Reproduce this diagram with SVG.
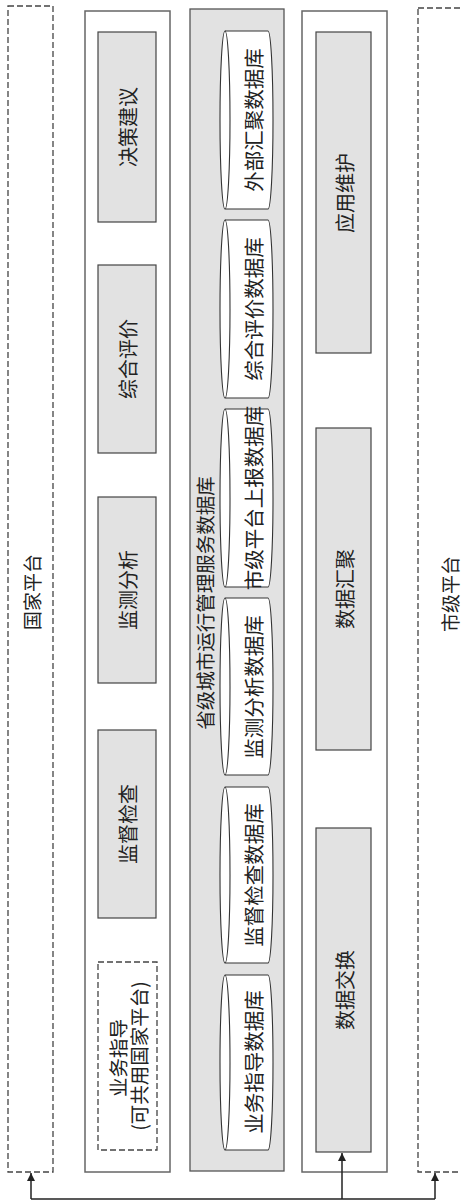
<svg xmlns="http://www.w3.org/2000/svg" width="461" height="1201" viewBox="0 0 461 1201">
<defs>
<style>
.t{font-family:"Noto Sans CJK SC","Noto Sans",sans-serif;fill:#222;text-anchor:middle;dominant-baseline:central}
.dash{fill:none;stroke:#444;stroke-width:1.3;stroke-dasharray:6 3}
.outer{fill:#fff;stroke:#666;stroke-width:1.5}
.box{fill:#e2e2e2;stroke:#444;stroke-width:1.2}
.dbwrap{fill:#e2e2e2;stroke:#555;stroke-width:1.3}
.cyl{fill:#fff;stroke:#333;stroke-width:1.1}
.conn{fill:none;stroke:#222;stroke-width:1.5}
</style>
<marker id="ah" viewBox="0 0 10 10" refX="10" refY="5" markerWidth="8" markerHeight="10" markerUnits="userSpaceOnUse" orient="auto">
<path d="M0,0 L10,5 L0,10 z" fill="#222"/>
</marker>
</defs>
<rect width="461" height="1201" fill="#fff"/>

<g id="national">
<rect class="dash" x="8" y="6" width="45" height="1166"/>
<text class="t" font-size="19" transform="translate(31,592) rotate(-90)">国家平台</text>
</g>

<g id="municipal">
<rect class="dash" x="418" y="8" width="50" height="1164"/>
<text class="t" font-size="19" transform="translate(449,594) rotate(-90)">市级平台</text>
</g>

<g id="apps">
<rect class="outer" x="85" y="11" width="85" height="1161"/>
<g id="juece"><rect class="box" x="98" y="32" width="58" height="190"/><text class="t" font-size="20" transform="translate(127,127) rotate(-90)">决策建议</text></g>
<g id="zonghe"><rect class="box" x="98" y="265" width="58" height="188"/><text class="t" font-size="20" transform="translate(127,359) rotate(-90)">综合评价</text></g>
<g id="jiance"><rect class="box" x="98" y="497" width="58" height="186"/><text class="t" font-size="20" transform="translate(127,590) rotate(-90)">监测分析</text></g>
<g id="jiandu"><rect class="box" x="98" y="730" width="58" height="188"/><text class="t" font-size="20" transform="translate(127,824) rotate(-90)">监督检查</text></g>
<g id="yewu"><rect class="dash" x="98" y="962" width="59" height="188" fill="#fff"/>
<text class="t" font-size="19.5" transform="translate(117,1058) rotate(-90)">业务指导</text>
<text class="t" font-size="19.5" transform="translate(138,1056) rotate(-90)">(可共用国家平台)</text></g>
</g>

<g id="db">
<rect class="dbwrap" x="190" y="9" width="94" height="1162"/>
<text class="t" font-size="19.5" transform="translate(204,603) rotate(-90)">省级城市运行管理服务数据库</text>
<g id="db1"><path class="cyl" d="M225,31 L268,31 A5,89 0 0 1 268,209 L225,209 A5,89 0 0 1 225,31 A5,89 0 0 1 225,209"/><text class="t" font-size="20.5" transform="translate(253,120) rotate(-90)">外部汇聚数据库</text></g>
<g id="db2"><path class="cyl" d="M225,220 L268,220 A5,89 0 0 1 268,398 L225,398 A5,89 0 0 1 225,220 A5,89 0 0 1 225,398"/><text class="t" font-size="20.5" transform="translate(253,309) rotate(-90)">综合评价数据库</text></g>
<g id="db3"><path class="cyl" d="M225,409 L268,409 A5,89 0 0 1 268,587 L225,587 A5,89 0 0 1 225,409 A5,89 0 0 1 225,587"/><text class="t" font-size="20.5" transform="translate(253,498) rotate(-90)">市级平台上报数据库</text></g>
<g id="db4"><path class="cyl" d="M225,598 L268,598 A5,88.5 0 0 1 268,775 L225,775 A5,88.5 0 0 1 225,598 A5,88.5 0 0 1 225,775"/><text class="t" font-size="20.5" transform="translate(253,687) rotate(-90)">监测分析数据库</text></g>
<g id="db5"><path class="cyl" d="M225,787 L268,787 A5,88 0 0 1 268,963 L225,963 A5,88 0 0 1 225,787 A5,88 0 0 1 225,963"/><text class="t" font-size="20.5" transform="translate(253,875) rotate(-90)">监督检查数据库</text></g>
<g id="db6"><path class="cyl" d="M225,975 L268,975 A5,87.5 0 0 1 268,1150 L225,1150 A5,87.5 0 0 1 225,975 A5,87.5 0 0 1 225,1150"/><text class="t" font-size="20.5" transform="translate(253,1062) rotate(-90)">业务指导数据库</text></g>
</g>

<g id="exchange">
<rect class="outer" x="302" y="11" width="85" height="1161"/>
<g id="weihu"><rect class="box" x="316" y="32" width="55" height="321"/><text class="t" font-size="20" transform="translate(344,193) rotate(-90)">应用维护</text></g>
<g id="huiju"><rect class="box" x="316" y="428" width="55" height="322"/><text class="t" font-size="20" transform="translate(344,589) rotate(-90)">数据汇聚</text></g>
<g id="jiaohuan"><rect class="box" x="316" y="828" width="55" height="324"/><text class="t" font-size="20" transform="translate(344,990) rotate(-90)">数据交换</text></g>
</g>

<g id="connectors">
<path class="conn" d="M31,1199 L435,1199"/>
<path class="conn" d="M31,1199 L31,1173" marker-end="url(#ah)"/>
<path class="conn" d="M342,1199 L342,1153" marker-end="url(#ah)"/>
<path class="conn" d="M435,1199 L435,1173" marker-end="url(#ah)"/>
</g>
</svg>
